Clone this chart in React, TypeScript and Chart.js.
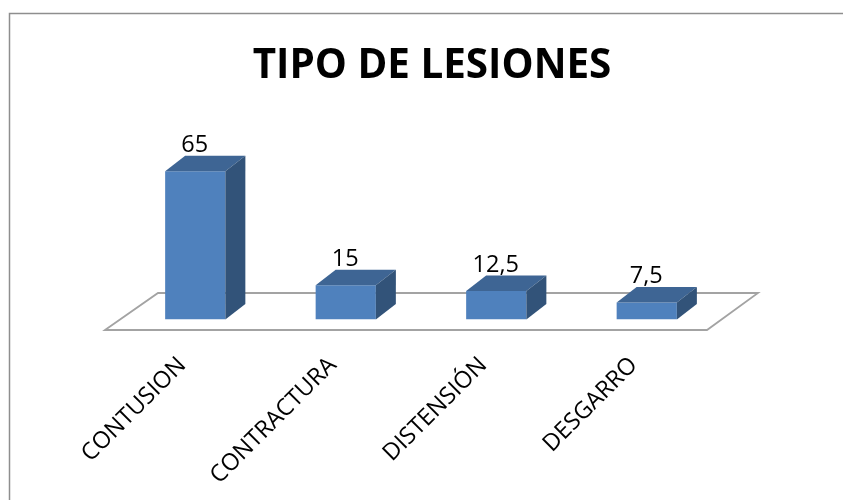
import React, { useEffect, useRef } from "react";
import { Chart, registerables } from "chart.js";

Chart.register(...registerables);

const categories = ["CONTUSION", "CONTRACTURA", "DISTENSIÓN", "DESGARRO"];
const values = [65, 15, 12.5, 7.5];
const titleText = "TIPO DE LESIONES";
const FONT = '"Open Sans", sans-serif';

const DEPTH_X = 20;
const DEPTH_Y = 15.5;

const polygon = (ctx: CanvasRenderingContext2D, pts: number[][], fill: string) => {
  ctx.beginPath();
  pts.forEach(([x, y], i) => (i ? ctx.lineTo(x, y) : ctx.moveTo(x, y)));
  ctx.closePath();
  ctx.fillStyle = fill;
  ctx.fill();
};

const shiftTitle = {
  id: "shiftTitle",
  afterLayout(chart: any) {
    if (chart.titleBlock) chart.titleBlock.left += 22;
  },
};

const frameAndFloor = {
  id: "frameAndFloor",
  beforeDatasetsDraw(chart: any) {
    const { ctx, chartArea: a } = chart;
    ctx.save();
    ctx.strokeStyle = "#8e8e8e";
    ctx.lineWidth = 1.5;
    ctx.beginPath();
    ctx.moveTo(9.5, chart.height);
    ctx.lineTo(9.5, 13.5);
    ctx.lineTo(chart.width, 13.5);
    ctx.stroke();

    const yBase = a.bottom;
    ctx.strokeStyle = "#a3a3a3";
    ctx.lineWidth = 1.8;
    ctx.lineJoin = "miter";
    ctx.beginPath();
    ctx.moveTo(a.left - 15, yBase + 10.5);
    ctx.lineTo(a.left + 38, yBase - 26.5);
    ctx.lineTo(a.right + 36, yBase - 26.5);
    ctx.lineTo(a.right - 15, yBase + 10.5);
    ctx.closePath();
    ctx.stroke();
    ctx.restore();
  },
};

const bars3d = {
  id: "bars3d",
  afterDatasetsDraw(chart: any) {
    const { ctx } = chart;
    const meta = chart.getDatasetMeta(0);
    ctx.save();
    meta.data.forEach((bar: any, i: number) => {
      const l = bar.x - bar.width / 2;
      const r = bar.x + bar.width / 2;
      const t = bar.y;
      const b = bar.base;
      polygon(ctx, [[l, t], [l + DEPTH_X, t - DEPTH_Y], [r + DEPTH_X, t - DEPTH_Y], [r, t]], "#3e6594");
      polygon(ctx, [[r, t], [r + DEPTH_X, t - DEPTH_Y], [r + DEPTH_X, b - DEPTH_Y], [r, b]], "#325379");
      ctx.fillStyle = "#000";
      ctx.font = `23.5px ${FONT}`;
      ctx.textAlign = "center";
      ctx.textBaseline = "alphabetic";
      ctx.fillText(String(values[i]).replace(".", ","), bar.x - 0.5, t - 19.5);
    });
    ctx.restore();
  },
};

export default function App() {
  const ref = useRef<HTMLCanvasElement>(null);
  useEffect(() => {
    const chart = new Chart(ref.current!, {
      type: "bar",
      data: {
        labels: categories,
        datasets: [
          {
            data: values,
            backgroundColor: "#4f81bd",
            borderWidth: 0,
            barPercentage: 0.4,
            categoryPercentage: 1,
          },
        ],
      },
      options: {
        responsive: false,
        animation: false,
        layout: { padding: { left: 120, right: 121, top: 0, bottom: 0 } },
        plugins: {
          legend: { display: false },
          tooltip: { enabled: false },
          title: {
            display: true,
            text: titleText,
            color: "#000",
            font: { family: FONT, size: 40.4, weight: "bold" },
            padding: { top: 42.5, bottom: 69 },
          },
        },
        scales: {
          x: {
            grid: { display: false },
            border: { display: false },
            afterFit: (s: any) => {
              s.height = 180.5;
            },
            ticks: {
              color: "#000",
              font: { family: FONT, size: 23.5 },
              minRotation: 45,
              maxRotation: 45,
              autoSkip: false,
              padding: 24,
              labelOffset: -13,
            },
          },
          y: { display: false, min: 0, max: 70 },
        },
      },
      plugins: [shiftTitle, frameAndFloor, bars3d],
    } as any);
    return () => chart.destroy();
  }, []);
  return (
    <div style={{ position: "absolute", left: 0, top: 0, width: 843, height: 500, background: "#fff" }}>
      <canvas ref={ref} width={843} height={500} style={{ display: "block" }} />
    </div>
  );
}
